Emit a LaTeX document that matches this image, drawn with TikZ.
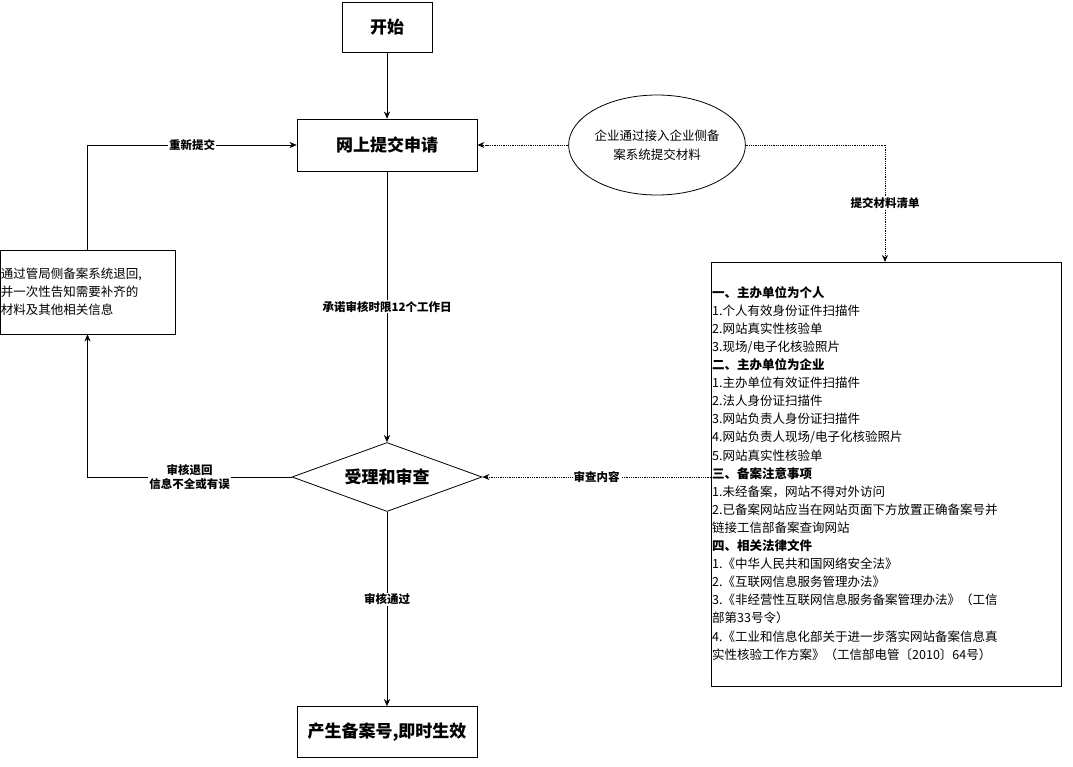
\documentclass[tikz,border=0pt]{standalone}
\usepackage{fontspec}
\setmainfont{Noto Sans CJK SC}
\usetikzlibrary{shapes.geometric,arrows.meta}
\begin{document}
\begin{tikzpicture}[x=1pt,y=-1pt,
  box/.style={draw,thick,fill=white,minimum width=#1},
  main/.style={box=180,minimum height=52,font=\fontsize{17}{19}\selectfont\bfseries},
  lbl/.style={fill=white,font=\fontsize{11.5}{14}\selectfont\bfseries,inner sep=1pt,align=center},
  arr/.style={-{Stealth[length=7pt,width=6pt]}},
  dot/.style={densely dotted,thick}]
\useasboundingbox (0,0) rectangle (1073,766);
\node[main,minimum width=90,minimum height=50] (s) at (387,27) {开始};
\node[main] (n) at (387,145) {网上提交申请};
\node[draw,thick,diamond,aspect=2.75,minimum width=190,minimum height=69,inner sep=0,font=\fontsize{17}{19}\selectfont\bfseries] (d) at (387,477) {受理和审查};
\node[main,minimum height=51] (f) at (387,732) {产生备案号,即时生效};
\node[draw,thick,minimum width=175,minimum height=84,align=left,text width=173,inner sep=1pt,font=\fontsize{12.5}{18}\selectfont] (l) at (87.5,292) {通过管局侧备案系统退回,\\并一次性告知需要补齐的\\材料及其他相关信息};
\coordinate (c1) at (885,145);
\draw[dot] (c1) -- (n.east);
\node[draw,thick,ellipse,fill=white,minimum width=152,minimum height=100,align=center,inner sep=0,font=\fontsize{12.5}{19}\selectfont] (e) at (657,145) {企业通过接入企业侧备\\案系统提交材料};
\node[draw,thick,minimum width=350,minimum height=424,anchor=north west] (b) at (711,262) {};
\node[anchor=north west,align=left,inner sep=1pt,font=\fontsize{12.5}{18.1}\selectfont] (bt) at (711,285) {\textbf{一、主办单位为个人}\\1.个人有效身份证件扫描件\\2.网站真实性核验单\\3.现场/电子化核验照片\\\textbf{二、主办单位为企业}\\1.主办单位有效证件扫描件\\2.法人身份证扫描件\\3.网站负责人身份证扫描件\\4.网站负责人现场/电子化核验照片\\5.网站真实性核验单\\\textbf{三、备案注意事项}\\1.未经备案，网站不得对外访问\\2.已备案网站应当在网站页面下方放置正确备案号并\\链接工信部备案查询网站\\\textbf{四、相关法律文件}\\1.《中华人民共和国网络安全法》\\2.《互联网信息服务管理办法》\\3.《非经营性互联网信息服务备案管理办法》（工信\\部第33号令）\\4.《工业和信息化部关于进一步落实网站备案信息真\\实性核验工作方案》（工信部电管〔2010〕64号）};
\draw[dot,arr] (n.east) ++(10,0) -- (n.east);
\draw[dot,arr] (c1) -- node[lbl]{提交材料清单} (b.north -| c1);
\draw[arr] (s) -- (n);
\draw[arr] (n) -- node[lbl]{承诺审核时限12个工作日} (d.north);
\draw[arr] (d.south) -- node[lbl,pos=0.45]{审核通过} (f);
\draw[arr] (d.west) -- node[lbl]{审核退回\\信息不全或有误} (87.5,477) -- (l.south);
\draw[arr] (l.north) -- (87.5,145) -- node[lbl]{重新提交} (n.west);
\draw[dot,arr] (b.west |- d) -- node[lbl]{审查内容} (d.east);
\end{tikzpicture}
\end{document}
